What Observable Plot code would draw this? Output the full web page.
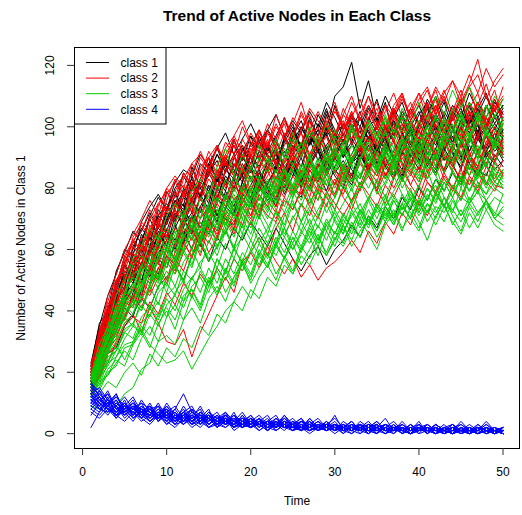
<!DOCTYPE html>
<html>
<head>
<meta charset="utf-8">
<script src="https://cdn.jsdelivr.net/npm/d3@7"></script>
<script src="https://cdn.jsdelivr.net/npm/@observablehq/plot@0.6"></script>
<style>
  body { margin: 0; background: #fff; }
  svg { display: block; }
</style>
</head>
<body>
<div id="chart"></div>
<script>
// Time steps of the simulation
const time = [1,2,3,4,5,6,7,8,9,10,11,12,13,14,15,16,17,18,19,20,21,22,23,24,25,26,27,28,29,30,31,32,33,34,35,36,37,38,39,40,41,42,43,44,45,46,47,48,49,50];

// Active-node counts per run (one array per run), grouped by class
const class1 = [
  [18,30,36,47,50,58,57,66,63,72,70,77,74,82,79,86,81,88,84,91,86,93,88,85,94,90,97,92,99,94,101,96,92,100,103,97,105,99,102,107,100,104,109,102,106,99,104,110,103,107],
  [15,24,33,36,45,49,56,52,61,66,60,68,72,67,75,71,79,74,82,77,85,80,76,84,88,81,90,85,79,87,92,86,83,91,87,95,89,84,93,88,96,90,86,94,89,97,91,87,95,90],
  [21,33,41,46,56,60,67,63,71,75,70,79,83,77,86,82,90,85,93,88,95,91,86,97,92,100,95,104,99,110,113,121,106,115,102,98,106,101,97,104,108,100,96,105,101,107,98,103,109,102],
  [16,22,31,39,37,46,52,49,57,54,62,66,60,69,65,73,70,68,77,73,81,76,79,85,80,77,86,82,89,84,80,88,91,85,93,87,83,92,88,95,90,86,94,97,91,88,96,92,98,93],
  [19,27,40,44,53,51,62,65,71,68,76,73,81,78,85,80,89,86,82,91,87,94,89,96,91,87,95,99,93,97,90,94,100,96,92,98,102,95,99,93,97,103,98,94,100,105,97,101,95,99],
  [17,29,35,43,48,56,53,61,67,64,72,69,77,80,75,84,88,79,85,90,83,88,93,86,91,95,88,93,98,90,96,89,94,99,92,97,101,94,98,91,96,100,93,97,90,95,99,92,96,94],
  [23,35,45,52,60,58,69,74,78,73,82,86,84,91,87,93,98,91,96,101,95,99,104,97,102,98,105,100,108,103,97,104,100,107,102,110,104,99,106,101,109,104,100,107,103,111,105,100,108,104],
  [14,21,29,35,41,38,47,53,50,58,55,63,67,61,70,66,74,71,78,75,82,77,84,80,86,82,89,84,91,86,83,90,93,87,92,96,89,94,91,86,93,97,90,88,95,92,98,91,94,89],
  [19,31,35,45,52,49,59,64,61,70,76,72,81,78,85,89,82,87,91,85,92,88,96,90,99,93,102,97,91,98,94,101,95,103,98,92,99,104,97,101,107,99,104,96,102,108,100,97,103,99],
  [16,26,30,41,44,53,50,58,65,61,67,73,69,77,72,80,76,84,79,87,83,78,88,92,85,81,90,95,88,93,86,91,97,89,94,87,92,98,90,95,88,93,99,91,87,94,90,97,92,95],
  [22,36,40,53,59,66,62,71,77,73,80,84,79,88,85,91,87,94,89,97,93,99,95,90,98,94,103,97,105,99,95,103,98,106,101,96,103,108,100,105,97,102,108,99,105,101,106,111,103,107],
  [15,25,29,38,46,44,55,51,59,63,68,62,70,74,67,77,73,80,84,76,85,81,87,82,89,84,80,88,85,92,87,83,91,86,94,88,84,92,87,95,89,85,93,88,82,90,86,84,91,87],
  [13,19,26,28,35,39,44,41,48,51,55,50,58,62,56,64,60,67,63,69,65,61,67,62,57,53,58,61,55,60,63,68,64,71,67,74,70,77,73,80,76,83,79,85,81,88,84,90,86,89],
  [20,28,38,49,55,52,61,59,68,66,74,79,72,83,80,76,86,83,90,86,81,89,93,87,84,92,96,89,94,98,91,95,89,97,93,100,95,91,98,94,101,96,92,99,95,102,97,93,100,96],
  [17,31,37,42,51,57,55,64,60,69,73,67,76,72,81,77,84,80,88,83,79,87,91,84,89,94,87,92,85,90,96,88,93,86,91,97,89,95,100,92,98,94,101,95,99,104,96,100,106,98],
  [19,26,41,43,55,50,63,70,64,73,79,71,84,77,88,83,79,90,94,86,97,90,85,95,100,92,98,93,104,96,90,99,105,95,101,108,97,103,94,100,106,98,95,103,109,99,104,97,101,106],
  [16,28,32,44,42,54,60,55,66,61,71,75,66,78,73,83,76,71,82,87,79,86,92,83,88,80,89,94,86,91,98,88,93,85,96,90,84,95,99,89,94,87,97,92,86,96,101,91,88,97],
  [22,32,39,50,47,61,66,72,67,79,74,85,81,76,88,93,86,91,84,95,90,99,93,88,97,102,94,99,106,97,101,95,103,98,92,100,96,104,99,94,102,97,105,100,95,103,98,107,101,97],
  [14,24,28,33,43,47,45,55,52,61,57,65,71,63,74,69,78,72,81,76,70,82,86,78,84,90,82,87,93,85,89,84,92,97,88,94,90,86,95,99,91,96,89,94,100,92,97,90,95,91],
  [20,34,38,48,58,54,65,61,73,69,78,74,87,80,84,91,85,96,89,94,99,92,97,103,95,100,94,101,97,107,99,104,96,102,109,100,97,105,101,96,104,110,102,98,105,101,108,103,99,105],
  [17,23,35,37,47,52,49,60,57,67,63,70,65,74,79,71,77,83,75,81,86,80,74,85,89,82,87,93,84,90,85,81,89,94,86,92,88,83,91,96,87,93,85,90,95,88,84,92,89,93],
  [18,29,38,42,50,59,62,58,70,74,69,80,76,83,90,82,88,84,92,97,89,94,87,96,101,93,98,92,100,95,91,99,103,96,100,94,102,98,93,101,97,104,99,95,102,98,106,100,96,103]
];

const class2 = [
  [17,28,35,46,49,59,55,68,64,74,77,81,76,86,90,84,93,97,102,95,92,99,94,102,96,104,98,94,101,106,99,103,109,101,106,98,104,110,102,107,112,104,110,102,108,114,122,110,105,113],
  [15,23,27,36,41,45,43,52,56,50,59,63,57,66,70,64,73,69,76,79,72,81,77,84,79,86,81,88,83,78,87,82,89,84,79,88,83,90,85,80,89,84,91,85,81,90,84,88,82,86],
  [20,31,39,50,55,63,66,73,68,78,82,77,86,81,90,94,87,95,90,98,93,101,96,103,97,105,99,94,103,108,100,96,104,110,101,97,105,111,102,98,106,112,103,99,107,113,104,100,109,104],
  [13,19,23,30,36,39,33,41,36,30,29,34,25,33,39,45,51,46,56,59,64,58,67,72,66,75,71,79,74,82,78,85,81,88,84,90,86,92,87,94,89,96,91,87,95,90,97,92,88,96],
  [18,27,36,42,50,54,61,63,60,69,73,68,78,81,76,86,80,88,83,79,87,91,83,89,93,85,91,96,87,93,98,89,95,87,93,99,90,96,88,94,100,91,97,89,95,101,92,98,90,95],
  [16,26,31,41,48,50,58,54,63,67,62,71,75,70,79,75,83,79,86,82,89,85,92,88,95,91,98,94,101,97,104,100,96,105,99,107,103,109,104,111,106,113,108,115,110,117,111,119,113,117],
  [21,28,39,45,51,56,64,60,69,73,68,77,82,78,86,81,76,83,87,79,85,89,81,87,91,83,89,82,88,92,84,90,94,86,92,84,90,95,87,93,85,91,96,88,94,86,92,97,89,94],
  [14,22,26,35,37,44,50,46,54,58,53,62,58,66,62,69,65,72,68,75,71,78,74,81,77,83,79,85,81,77,86,82,88,84,80,89,85,91,86,82,90,86,92,87,83,91,87,93,88,85],
  [17,29,34,43,50,52,61,66,62,71,75,70,80,76,83,79,86,90,85,93,89,96,87,94,98,90,96,100,92,98,102,94,100,92,98,103,95,101,93,99,104,96,102,94,100,105,97,103,95,101],
  [22,33,43,52,60,65,70,76,71,80,84,80,88,91,87,83,90,94,86,92,96,88,94,85,91,95,87,93,97,89,95,99,91,97,89,95,100,92,98,90,96,101,93,99,91,97,102,94,100,92],
  [15,24,29,38,44,47,53,59,55,63,59,67,63,70,74,70,77,73,80,76,83,79,77,85,80,78,86,81,79,75,71,76,80,84,79,85,80,86,81,87,82,79,85,80,86,81,87,82,79,85],
  [14,18,26,29,35,38,36,43,39,46,42,49,45,52,48,54,50,57,53,59,54,61,56,52,57,51,55,50,54,56,59,63,59,66,62,69,65,72,68,75,71,78,74,81,77,84,80,87,83,89],
  [18,30,37,48,53,61,57,66,70,74,70,79,75,83,87,83,91,87,94,90,97,93,100,96,103,99,106,102,98,105,100,108,102,110,104,100,107,111,103,109,113,105,111,115,107,113,117,109,115,119],
  [16,25,34,40,46,53,55,53,62,66,62,70,66,74,70,78,74,81,77,84,80,87,83,90,86,93,89,96,92,99,95,102,98,95,101,96,103,98,105,100,107,102,98,106,101,108,103,99,107,102],
  [19,32,40,49,57,63,60,70,75,72,79,84,80,87,90,85,91,96,89,94,99,91,96,101,93,98,91,97,102,94,99,105,96,101,94,100,106,97,102,95,101,107,98,103,96,102,108,99,104,97],
  [13,20,27,31,39,42,47,45,51,56,52,59,64,58,67,63,71,67,74,70,78,74,81,77,84,80,87,83,90,86,82,89,93,87,84,91,95,88,85,92,96,89,86,93,97,90,87,94,98,91],
  [20,29,42,47,56,62,69,66,75,79,74,83,88,84,92,87,95,91,100,94,90,98,93,88,96,91,99,94,89,97,92,100,95,90,98,93,101,96,91,99,94,102,97,92,100,95,103,98,93,101],
  [16,24,30,37,43,41,49,54,50,58,55,62,66,61,69,65,72,68,75,71,78,74,70,77,73,79,75,81,77,73,80,76,82,78,74,81,77,83,79,75,82,78,84,80,76,83,79,85,81,80],
  [18,25,38,41,52,57,53,65,70,63,75,71,82,76,85,80,89,84,78,91,86,95,88,83,93,98,90,95,101,92,97,104,95,100,93,99,106,97,102,96,103,109,99,104,97,106,111,101,107,103],
  [15,21,31,33,42,48,44,55,51,60,57,64,70,62,68,75,71,66,77,73,80,76,72,83,78,85,80,76,86,81,88,83,79,87,92,84,89,85,93,88,83,91,86,94,89,84,92,88,95,90],
  [21,34,41,47,58,63,59,71,67,76,83,78,85,92,86,94,88,84,96,91,99,93,104,97,101,108,99,105,100,96,104,110,102,107,99,105,111,103,108,101,97,106,112,104,109,102,107,114,105,109],
  [17,27,30,39,46,43,54,60,56,65,61,69,74,67,72,79,74,82,77,71,80,86,79,84,90,83,77,87,92,85,81,89,94,86,82,91,96,88,84,92,98,90,85,94,99,91,87,95,100,93],
  [19,30,36,48,45,56,62,58,68,64,73,78,72,81,87,80,85,91,83,88,95,86,91,98,89,94,102,93,97,90,99,105,95,92,100,107,97,103,95,101,108,99,94,104,110,100,96,106,112,102],
  [14,22,29,32,38,45,41,48,54,49,57,53,61,66,59,64,70,65,72,68,75,71,69,76,73,80,74,70,78,83,77,73,80,86,79,75,83,88,81,77,85,90,83,79,87,92,85,81,89,84],
  [23,31,45,50,54,64,68,64,74,80,77,85,81,90,86,93,89,97,92,88,98,94,101,96,91,99,104,95,101,97,106,100,95,103,108,99,104,98,106,111,102,107,100,105,112,104,108,101,106,110],
  [16,26,33,37,47,51,58,53,61,58,67,63,71,77,70,75,82,76,80,86,79,84,89,81,87,92,84,79,88,93,86,82,90,95,87,83,91,97,89,85,93,98,90,86,94,100,92,87,96,91]
];

const class3 = [
  [15,22,26,34,40,42,49,53,51,60,57,64,68,62,71,74,68,77,73,80,76,82,78,85,80,87,82,89,84,91,86,82,90,93,87,95,89,85,93,96,90,97,92,88,95,98,91,87,96,92],
  [13,16,23,25,31,35,33,42,38,45,48,43,51,54,49,57,53,60,56,63,58,65,61,67,62,69,64,71,66,73,68,75,70,77,72,74,78,73,76,71,75,72,77,73,69,75,71,76,72,70],
  [16,24,28,37,41,47,50,48,57,60,55,64,68,62,71,66,74,78,72,81,76,83,79,86,81,88,83,90,85,92,87,94,89,96,91,98,93,100,95,102,97,104,99,106,101,108,102,107,103,109],
  [9,8,7,9,13,15,21,23,30,32,29,37,41,36,44,48,43,51,55,50,58,54,61,57,64,60,67,62,69,65,71,67,73,69,75,71,77,73,79,74,80,76,82,77,83,79,85,80,86,82],
  [17,26,31,41,45,52,54,62,65,60,69,73,67,77,72,81,76,84,79,87,82,90,85,93,87,95,90,97,92,99,94,101,95,102,97,103,98,104,99,94,101,97,103,98,104,99,105,100,95,102],
  [14,20,23,29,24,30,34,29,26,23,24,27,21,26,31,35,40,43,48,44,51,55,50,58,53,61,57,64,59,66,62,69,64,71,66,73,68,75,70,77,72,79,74,81,76,83,78,85,80,84],
  [15,21,29,33,40,43,40,49,53,48,57,59,54,63,66,60,69,64,72,67,75,70,77,72,79,74,81,76,83,77,84,79,85,80,86,81,87,82,88,83,89,84,79,86,81,87,82,78,85,80],
  [18,27,33,42,46,55,58,55,64,67,62,72,75,70,79,75,83,79,87,82,90,85,93,88,96,90,98,94,89,97,92,100,94,102,96,104,98,106,100,108,102,110,104,112,106,113,107,103,110,106],
  [12,17,19,25,29,30,36,39,35,42,45,41,48,51,46,54,50,57,53,60,55,62,58,64,60,66,62,68,63,70,65,72,67,73,68,74,69,75,70,66,73,68,74,69,65,72,67,73,68,66],
  [16,23,32,36,44,47,54,50,58,62,57,66,69,64,73,68,76,71,79,74,82,77,84,79,86,81,88,83,90,85,92,87,83,90,85,93,87,95,89,84,92,87,95,89,96,90,85,93,88,95],
  [14,19,26,30,36,39,45,41,48,53,48,56,60,54,63,58,66,61,68,63,71,65,73,67,75,69,77,71,79,73,81,75,82,76,83,77,84,78,74,81,76,83,77,72,80,75,82,76,71,78],
  [19,29,35,45,50,57,61,67,63,71,75,70,79,83,77,87,93,84,91,86,94,88,96,90,98,92,100,94,101,95,91,99,94,101,95,102,96,103,97,92,100,95,102,96,103,97,104,98,93,101],
  [13,17,25,27,34,36,42,38,46,49,45,53,50,56,59,54,62,57,65,60,67,62,69,64,71,66,73,67,75,69,65,73,68,76,70,77,71,78,72,67,75,70,77,71,66,74,69,76,70,68],
  [15,22,27,35,37,44,47,53,49,57,54,61,65,59,68,63,71,66,74,69,77,72,79,74,81,76,83,78,85,80,87,82,89,84,91,86,93,88,95,90,97,92,99,94,101,96,103,97,104,99],
  [17,23,32,35,43,45,52,49,57,61,56,65,60,69,64,73,67,76,70,79,73,81,75,83,77,85,79,87,81,89,83,90,84,91,85,92,86,93,87,82,90,84,91,85,80,88,83,90,84,81],
  [12,14,20,22,28,29,35,32,39,41,37,45,47,42,51,46,54,49,57,52,60,55,62,57,64,59,66,61,68,63,70,65,72,67,74,69,76,71,78,73,80,75,82,77,84,79,86,81,87,83],
  [11,13,17,15,20,23,19,26,22,28,25,31,28,35,32,39,36,43,40,47,44,51,48,55,52,58,55,61,58,64,61,67,64,70,66,72,68,74,70,76,72,78,74,73,77,75,79,76,80,78],
  [16,25,30,39,43,49,46,55,59,54,63,60,67,63,71,67,74,70,77,73,80,76,83,79,86,81,88,84,91,86,93,88,95,90,86,93,88,96,91,98,93,89,97,92,99,94,90,98,93,97],
  [14,18,24,27,33,31,38,41,37,44,40,47,51,46,54,49,57,52,59,55,62,57,64,59,66,61,68,63,70,65,72,67,73,68,75,70,76,71,77,72,78,73,69,76,71,77,72,75,70,73],
  [18,24,33,38,45,48,55,52,60,64,59,68,71,66,75,70,78,73,81,76,84,79,86,81,88,83,90,85,92,87,94,89,96,91,87,94,89,97,92,87,95,90,98,93,88,96,91,99,94,90],
  [15,20,28,31,38,35,44,48,42,51,55,49,58,63,56,61,67,60,70,65,73,68,62,71,76,69,74,79,72,77,83,75,80,86,78,82,88,80,85,91,83,87,79,86,92,84,89,81,88,85],
  [17,25,30,40,44,41,52,57,50,61,66,59,70,64,74,68,78,72,67,77,82,75,80,86,78,84,90,81,87,93,85,80,89,95,86,91,84,93,98,88,94,87,96,101,91,97,89,99,94,98],
  [13,15,21,24,22,29,33,28,36,40,34,43,47,41,50,45,53,48,56,51,59,54,62,57,52,60,64,58,66,61,68,63,70,65,60,68,72,66,74,69,63,71,75,68,73,67,72,76,70,74],
  [16,22,31,34,42,39,48,53,47,56,52,60,55,64,69,61,66,72,65,75,70,78,73,68,77,82,75,80,85,77,83,88,80,85,91,83,88,82,90,94,86,91,85,93,97,89,94,87,95,92],
  [14,16,19,23,27,24,31,35,30,38,42,37,45,40,48,53,46,51,56,49,54,59,52,57,62,55,60,65,58,63,68,61,66,70,64,69,73,67,71,76,69,74,72,77,71,75,79,73,77,75],
  [18,26,35,38,46,51,48,58,62,56,65,70,63,73,68,77,71,80,75,84,78,73,82,87,80,85,91,83,88,94,86,91,96,88,93,99,90,95,101,92,97,103,94,99,105,96,101,107,98,103],
  [12,18,22,27,33,36,32,39,43,38,46,50,44,53,48,57,52,61,55,59,64,58,62,67,60,65,70,63,68,72,66,71,75,68,73,78,70,75,80,72,77,81,74,79,83,76,81,78,82,80],
  [15,23,26,33,39,43,40,47,52,46,55,50,58,63,57,61,66,60,64,69,62,67,72,65,70,75,68,73,78,70,75,80,72,77,82,74,79,84,76,81,86,78,83,80,85,79,84,88,82,86]
];

const class4 = [
  [11,9,13,8,10,6,9,5,7,8,4,6,3,7,5,2,6,4,3,5,2,4,1,3,5,2,3,1,4,2,0,3,2,1,3,1,2,0,2,1,3,1,0,2,1,0,2,1,1,0],
  [14,10,7,11,6,9,8,4,6,9,5,3,6,4,7,3,5,2,4,6,3,1,4,2,3,5,1,3,2,0,2,4,1,2,0,3,1,2,1,4,0,2,1,3,0,1,2,0,1,2],
  [2,7,10,5,8,11,6,8,4,7,5,8,4,6,3,5,7,2,4,3,5,1,3,6,2,4,2,3,1,3,2,1,4,2,1,2,0,3,1,2,1,0,2,3,1,0,1,2,0,1],
  [16,12,9,13,7,10,6,8,9,5,7,4,8,6,3,5,4,6,2,5,3,4,2,6,3,1,4,2,3,5,2,1,3,2,4,1,2,3,1,2,0,3,1,2,1,0,3,1,2,0],
  [9,12,8,6,10,7,5,9,6,4,8,13,7,5,6,3,5,4,7,3,4,2,5,3,2,4,1,3,2,4,1,2,3,0,2,1,3,1,2,0,1,2,1,0,2,1,3,1,0,1],
  [13,8,11,9,6,8,10,5,7,6,3,7,5,9,4,6,3,5,2,4,6,3,2,4,3,1,5,2,3,1,2,4,1,3,2,0,2,1,3,1,2,0,1,2,0,2,1,0,1,1],
  [10,14,9,7,11,5,8,6,9,4,6,5,8,3,6,4,2,5,3,6,2,4,3,1,4,2,5,2,1,3,2,1,3,1,2,5,1,2,0,3,1,2,0,1,3,1,0,2,1,0],
  [12,9,6,10,8,5,7,9,4,8,5,6,3,5,8,2,4,6,3,2,5,3,4,2,1,3,2,4,1,2,3,1,2,0,3,1,2,1,0,2,1,3,1,0,1,2,0,1,2,1],
  [15,11,13,8,9,12,7,6,10,5,7,4,6,8,3,5,4,2,6,3,4,2,3,5,2,1,3,2,4,1,2,3,0,2,1,2,4,1,0,2,1,1,3,0,2,1,0,2,1,0],
  [8,6,9,11,7,4,8,6,5,7,3,6,4,2,5,7,3,4,2,3,5,1,3,2,4,2,1,3,2,6,1,2,1,3,0,2,1,2,0,1,2,0,1,3,1,0,2,1,0,1],
  [11,13,10,7,9,6,11,7,5,6,8,4,7,5,3,6,4,5,3,2,4,6,2,3,1,4,3,2,1,3,2,0,2,3,1,2,1,4,1,2,1,0,2,1,4,1,2,0,1,2],
  [17,12,8,10,7,9,5,8,6,3,5,7,4,6,5,3,2,4,5,2,3,4,1,3,2,2,4,1,2,3,1,2,1,0,2,3,1,1,2,0,3,1,2,1,0,1,2,1,0,2],
  [9,7,12,6,9,8,6,10,5,7,4,9,5,3,6,4,5,3,6,2,4,3,5,2,3,1,2,4,2,1,3,1,2,1,0,3,2,0,1,2,1,2,0,1,2,0,1,3,1,0],
  [13,15,11,9,7,10,8,6,9,7,5,6,4,7,5,3,6,4,3,5,2,4,3,2,4,3,1,2,3,2,1,3,2,1,2,1,3,0,2,1,2,1,1,0,2,1,1,2,0,1],
  [6,10,8,5,9,7,4,6,8,5,3,4,7,5,2,4,3,5,4,2,3,1,4,2,3,5,2,1,3,2,1,2,3,1,2,0,1,2,1,3,0,2,1,0,1,2,0,1,1,0],
  [12,10,14,8,6,9,7,5,8,6,4,7,3,5,6,4,3,7,2,4,3,2,5,3,1,2,4,2,3,1,4,2,1,3,2,1,2,1,0,2,1,3,1,2,0,1,2,1,0,1],
  [10,8,7,9,5,8,6,4,7,3,6,5,2,4,6,3,4,2,3,4,1,3,2,4,2,1,3,1,2,3,0,2,1,2,3,1,0,2,1,1,2,0,1,2,1,0,1,2,1,0],
  [14,11,9,12,8,10,7,9,6,8,5,7,9,4,6,5,3,6,4,3,5,2,4,3,2,4,3,1,3,2,2,4,1,2,3,1,2,1,3,1,2,1,2,0,1,3,1,2,1,1],
  [7,5,8,6,4,7,5,3,6,4,2,5,3,4,2,3,5,1,3,2,4,2,1,3,1,2,0,2,1,3,1,0,2,1,1,0,2,1,0,1,1,0,2,0,1,1,0,1,0,1],
  [12,9,11,7,10,6,8,7,5,9,6,4,5,7,3,5,6,4,2,5,3,4,6,2,3,4,2,3,1,2,3,2,1,2,4,1,2,2,1,2,3,1,2,1,1,2,1,4,1,2],
  [10,12,8,6,7,9,5,7,4,6,5,3,6,4,5,2,4,3,5,3,1,3,4,2,2,3,1,2,3,1,2,1,3,1,0,2,1,2,0,1,2,1,0,1,1,2,0,1,1,0],
  [15,13,10,12,9,7,10,8,6,7,9,5,6,4,7,5,4,3,5,4,3,5,2,4,3,2,3,5,2,3,2,1,3,2,1,3,2,1,2,3,1,2,1,2,3,1,2,1,2,1],
  [11,8,10,13,7,9,6,8,5,7,4,6,8,3,5,4,6,2,4,3,5,2,3,4,1,3,2,4,2,1,3,1,2,4,1,2,1,3,1,2,0,2,1,3,1,0,2,1,0,1],
  [13,10,8,7,9,6,9,7,5,10,6,4,7,5,4,6,3,5,4,2,4,3,2,5,3,2,1,3,2,3,1,2,3,1,2,1,2,0,3,1,2,1,0,2,1,1,2,0,1,1],
  [8,11,9,6,8,10,7,4,6,5,7,3,5,6,2,4,5,3,2,4,3,1,4,2,3,2,1,2,3,1,2,1,0,2,3,1,1,2,0,1,2,1,1,0,2,1,0,1,1,0],
  [16,14,11,9,12,8,7,9,6,8,5,7,4,6,5,3,7,4,3,5,2,4,3,2,4,1,3,2,3,2,1,3,2,1,2,3,1,2,1,2,1,3,1,2,1,2,1,3,1,2]
];

const classNames = ["class 1", "class 2", "class 3", "class 4"];
const classColors = ["#000000", "#FF0000", "#00CD00", "#0000FF"];
const xTicks = [0, 10, 20, 30, 40, 50];
const yTicks = [0, 20, 40, 60, 80, 100, 120];

// Long-format rows: one per (run, time step)
const rows = [];
[class1, class2, class3, class4].forEach((runs, k) => {
  runs.forEach((values, r) => {
    values.forEach((v, i) => rows.push({cls: classNames[k], run: `${k}-${r}`, t: time[i], v}));
  });
});

const font = "'Liberation Sans', Arial, Helvetica, sans-serif";
const ink = "#000";

const chart = Plot.plot({
  width: 522,
  height: 515,
  marginLeft: 74,
  marginRight: 3,
  marginTop: 47,
  marginBottom: 67,
  style: {fontFamily: font, fontSize: "12px", background: "#fff", color: ink, overflow: "visible"},
  x: {domain: [-0.96, 51.96]},
  y: {domain: [-4.84, 125.84]},
  color: {domain: classNames, range: classColors},
  marks: [
    Plot.line(rows, {x: "t", y: "v", z: "run", stroke: "cls", strokeWidth: 1}),
    Plot.frame({stroke: ink, strokeWidth: 1}),
    Plot.axisX(xTicks, {tickSize: 7, tickFormat: () => "", label: null, stroke: "#333"}),
    Plot.axisY(yTicks, {tickSize: 7, tickFormat: () => "", label: null, stroke: "#333"}),
    Plot.text(xTicks, {x: d => d, text: d => String(d), frameAnchor: "bottom", dy: 24, lineAnchor: "middle", fill: ink, fontSize: 12}),
    Plot.text(yTicks, {y: d => d, text: d => String(d), frameAnchor: "left", dx: -24, rotate: -90, textAnchor: "middle", lineAnchor: "middle", fill: ink, fontSize: 12}),
    Plot.text(["Time"], {frameAnchor: "bottom", dy: 53, lineAnchor: "middle", fill: ink, fontSize: 12}),
    Plot.text(["Number of Active Nodes in Class 1"], {frameAnchor: "left", dx: -53, rotate: -90, textAnchor: "middle", lineAnchor: "middle", fill: ink, fontSize: 12}),
    Plot.text(["Trend of Active Nodes in Each Class"], {frameAnchor: "top", dy: -31, lineAnchor: "middle", fill: ink, fontSize: 15.5, fontWeight: "bold"})
  ]
});

// Legend box in the top-left corner of the panel
const svg = d3.select(chart);
const legend = svg.append("g")
  .attr("font-family", font)
  .attr("font-size", 12)
  .attr("text-anchor", "start");
legend.append("rect")
  .attr("x", 74.5).attr("y", 47.5).attr("width", 91.5).attr("height", 76.5)
  .attr("fill", "#fff").attr("stroke", ink);
classNames.forEach((name, i) => {
  const y = 62.5 + i * 15.6;
  legend.append("line")
    .attr("x1", 86).attr("x2", 109).attr("y1", y).attr("y2", y)
    .attr("stroke", classColors[i]).attr("stroke-width", 1);
  legend.append("text")
    .attr("x", 120.5).attr("y", y).attr("dy", "0.35em")
    .attr("text-anchor", "start")
    .attr("fill", ink).text(name);
});

document.getElementById("chart").appendChild(chart);
</script>
</body>
</html>
